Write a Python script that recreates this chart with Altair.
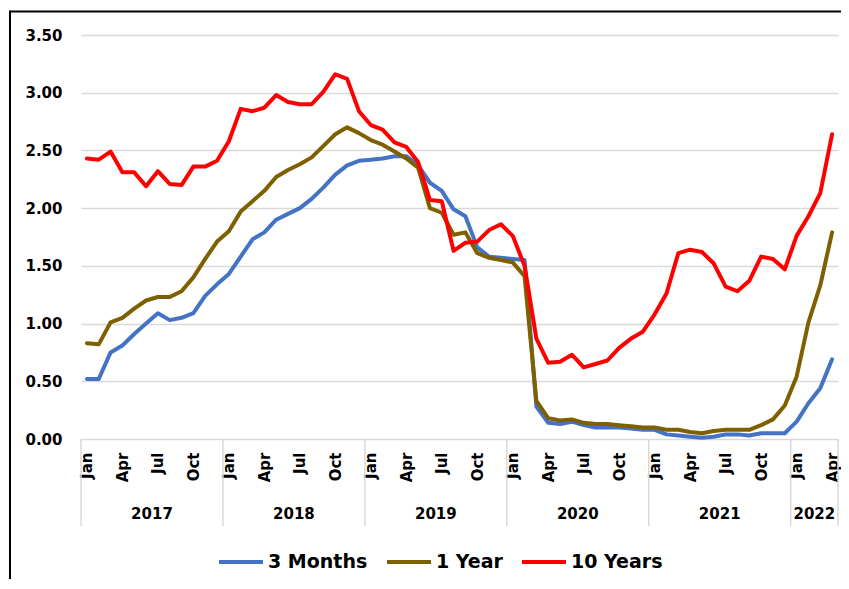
import altair as alt
import pandas as pd

# ---- data (monthly, Jan 2017 .. Apr 2022) ----
years = ["2017", "2018", "2019", "2020", "2021", "2022"]
tick_months = ["Jan", "Apr", "Jul", "Oct"]
series_names = ["3 Months", "1 Year", "10 Years"]
series_colors = ["#4472C4", "#7F6000", "#FF0000"]

three_months = [
    0.52, 0.52, 0.75, 0.81, 0.91, 1.00, 1.09, 1.03, 1.05, 1.09, 1.24, 1.34,
    1.43, 1.58, 1.73, 1.79, 1.90, 1.95, 2.00, 2.08, 2.18, 2.29, 2.37, 2.41,
    2.42, 2.43, 2.45, 2.45, 2.37, 2.22, 2.15, 1.99, 1.93, 1.66, 1.58, 1.57,
    1.56, 1.55, 0.28, 0.14, 0.13, 0.15, 0.12, 0.10, 0.10, 0.10, 0.09, 0.08,
    0.08, 0.04, 0.03, 0.02, 0.01, 0.02, 0.04, 0.04, 0.03, 0.05, 0.05, 0.05,
    0.15, 0.31, 0.44, 0.69,
]
one_year = [
    0.83, 0.82, 1.01, 1.05, 1.13, 1.20, 1.23, 1.23, 1.28, 1.40, 1.56, 1.71,
    1.80, 1.97, 2.06, 2.15, 2.27, 2.33, 2.38, 2.44, 2.54, 2.64, 2.70, 2.65,
    2.59, 2.55, 2.49, 2.43, 2.35, 2.00, 1.96, 1.77, 1.79, 1.61, 1.57, 1.55,
    1.53, 1.41, 0.33, 0.18, 0.16, 0.17, 0.14, 0.13, 0.13, 0.12, 0.11, 0.10,
    0.10, 0.08, 0.08, 0.06, 0.05, 0.07, 0.08, 0.08, 0.08, 0.12, 0.17, 0.29,
    0.54, 1.01, 1.33, 1.79,
]
ten_years = [
    2.43, 2.42, 2.49, 2.31, 2.31, 2.19, 2.32, 2.21, 2.20, 2.36, 2.36, 2.41,
    2.58, 2.86, 2.84, 2.87, 2.98, 2.92, 2.90, 2.90, 3.01, 3.16, 3.12, 2.84,
    2.72, 2.68, 2.57, 2.53, 2.40, 2.07, 2.06, 1.63, 1.70, 1.71, 1.81, 1.86,
    1.76, 1.50, 0.87, 0.66, 0.67, 0.73, 0.62, 0.65, 0.68, 0.79, 0.87, 0.93,
    1.08, 1.26, 1.61, 1.64, 1.62, 1.52, 1.32, 1.28, 1.37, 1.58, 1.56, 1.47,
    1.76, 1.93, 2.13, 2.64,
]
y_ticks = [0.0, 0.5, 1.0, 1.5, 2.0, 2.5, 3.0, 3.5]

# ---- tables built from the lists ----
n = len(three_months)
rows = []
for name, vals in zip(series_names, [three_months, one_year, ten_years]):
    for i, v in enumerate(vals):
        rows.append({"idx": i, "value": v, "series": name})
df = pd.DataFrame(rows)

bounds = [-0.5 + 12 * k for k in range(len(years))] + [n - 0.5]
sep_df = pd.DataFrame({"idx": bounds})
year_df = pd.DataFrame({
    "year": years,
    "idx": [(12 * k + min(12 * k + 11, n - 1)) / 2 for k in range(len(years))],
})

W, H = 757, 404
FONT = "DejaVu Sans"
GRID = "#d9d9d9"

xscale = alt.Scale(domain=[-0.5, n - 0.5], nice=False, zero=False)
yscale = alt.Scale(domain=[0, 3.5], nice=False)

color = alt.Color(
    "series:N",
    scale=alt.Scale(domain=series_names, range=series_colors),
    title=None,
    legend=alt.Legend(
        orient="none", legendX=136, legendY=503, direction="horizontal",
        symbolType="stroke", symbolSize=1936, symbolStrokeWidth=4,
        labelFont=FONT, labelFontSize=19, labelFontWeight="bold",
        labelColor="black", labelOffset=3, columnPadding=11, padding=0,
        labelLimit=300,
    ),
)

x_axis = alt.Axis(
    values=list(range(0, n, 3)),
    labelExpr="['Jan','Apr','Jul','Oct'][floor((datum.value % 12) / 3)]",
    labelAngle=-90, labelFont=FONT, labelFontSize=15, labelFontWeight="bold",
    labelColor="black", labelPadding=13, labelOverlap=False, labelFlush=False,
    ticks=False, grid=False, domainColor=GRID, domainWidth=1,
)
x_enc = alt.X("idx:Q", scale=xscale, title=None, axis=x_axis)
y_enc = alt.Y(
    "value:Q", scale=yscale, title=None,
    axis=alt.Axis(
        values=y_ticks, format=".2f", labelFont=FONT, labelFontSize=15,
        labelFontWeight="bold", labelColor="black", labelPadding=19,
        ticks=False, domain=False, grid=True, gridColor=GRID, gridWidth=1.5,
    ),
)

layers = []
for name in series_names:
    layers.append(
        alt.Chart(df).transform_filter(alt.datum.series == name)
        .mark_line(strokeWidth=4, strokeJoin="round", strokeCap="round")
        .encode(x=x_enc, y=y_enc, color=color)
    )

seps = alt.Chart(sep_df).mark_rule(color=GRID, strokeWidth=1.5).encode(
    x=x_enc,
    y=alt.value(H), y2=alt.value(H + 87),
)
year_text = alt.Chart(year_df).mark_text(
    font=FONT, fontSize=15, fontWeight="bold", color="black", baseline="middle"
).encode(
    x=x_enc,
    y=alt.value(H + 75),
    text="year:N",
)

one = pd.DataFrame({"a": [0]})
frame_top = alt.Chart(one).mark_rule(color="black", strokeWidth=2).encode(
    x=alt.value(-71), x2=alt.value(W + 20), y=alt.value(-23.5)
)
frame_left = alt.Chart(one).mark_rule(color="black", strokeWidth=2).encode(
    x=alt.value(-71), y=alt.value(-24.5), y2=alt.value(H + 150)
)

chart = alt.layer(*layers, seps, year_text, frame_top, frame_left).properties(
    width=W, height=H,
    padding={"left": 73, "top": 27, "right": 3, "bottom": 140},
    autosize=alt.AutoSizeParams(type="none"),
    background="white",
).configure_view(stroke=None)

chart.save("out.html", embed_options={"renderer": "svg", "actions": False})
